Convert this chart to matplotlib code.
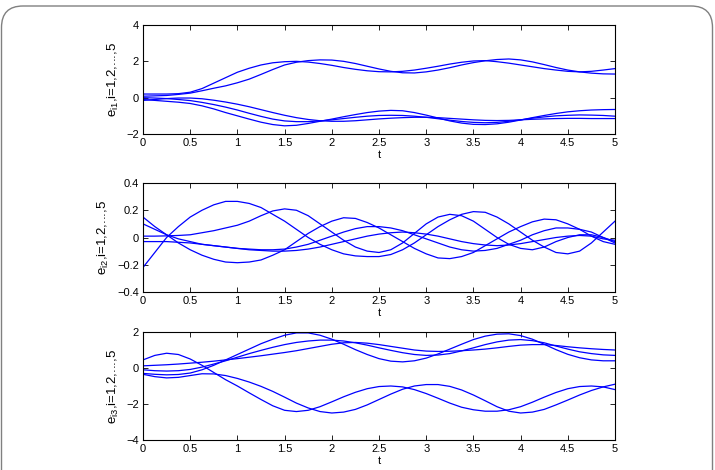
import matplotlib
matplotlib.use("Agg")
import matplotlib.pyplot as plt
from matplotlib.patches import FancyBboxPatch

plt.rcParams['font.family'] = ['Liberation Sans', 'DejaVu Sans']
plt.rcParams['mathtext.fontset'] = 'custom'
plt.rcParams['mathtext.rm'] = 'Liberation Sans'
plt.rcParams['mathtext.it'] = 'Liberation Sans'

t = [0, 0.125, 0.25, 0.375, 0.5, 0.625, 0.75, 0.875, 1.0, 1.125, 1.25, 1.375,
     1.5, 1.625, 1.75, 1.875, 2.0, 2.125, 2.25, 2.375, 2.5, 2.625, 2.75, 2.875,
     3.0, 3.125, 3.25, 3.375, 3.5, 3.625, 3.75, 3.875, 4.0, 4.125, 4.25, 4.375,
     4.5, 4.625, 4.75, 4.875, 5.0]

# panel 1: e_i1
e1_a = [0.2, 0.2, 0.2, 0.22, 0.3, 0.5, 0.8, 1.1, 1.4, 1.62, 1.8, 1.92, 1.98, 2.0, 1.96, 1.88, 1.78, 1.66, 1.56, 1.48, 1.43, 1.42, 1.45, 1.52, 1.62, 1.73, 1.85, 1.95, 2.02, 2.04, 1.98, 1.9, 1.8, 1.7, 1.6, 1.52, 1.45, 1.42, 1.45, 1.52, 1.6]
e1_b = [0.08, 0.1, 0.12, 0.18, 0.25, 0.38, 0.52, 0.65, 0.82, 1.02, 1.28, 1.55, 1.8, 1.95, 2.04, 2.08, 2.07, 2.0, 1.88, 1.73, 1.58, 1.45, 1.37, 1.36, 1.42, 1.52, 1.65, 1.8, 1.93, 2.03, 2.1, 2.13, 2.08, 1.97, 1.82, 1.66, 1.52, 1.42, 1.35, 1.31, 1.3]
e1_c = [-0.1, -0.15, -0.2, -0.25, -0.32, -0.45, -0.62, -0.82, -1.0, -1.18, -1.35, -1.48, -1.55, -1.52, -1.42, -1.3, -1.18, -1.05, -0.93, -0.82, -0.74, -0.7, -0.72, -0.82, -0.96, -1.12, -1.28, -1.4, -1.47, -1.48, -1.44, -1.35, -1.23, -1.1, -0.98, -0.87, -0.78, -0.72, -0.68, -0.66, -0.65]
e1_d = [0.0, -0.02, -0.05, -0.1, -0.16, -0.26, -0.38, -0.52, -0.68, -0.86, -1.03, -1.18, -1.28, -1.32, -1.32, -1.28, -1.22, -1.15, -1.08, -1.02, -0.98, -0.97, -0.98, -1.02, -1.08, -1.16, -1.24, -1.31, -1.36, -1.38, -1.36, -1.3, -1.22, -1.13, -1.06, -1.0, -0.97, -0.95, -0.96, -0.98, -1.02]
e1_e = [-0.15, -0.1, -0.05, -0.02, -0.02, -0.06, -0.14, -0.24, -0.36, -0.5, -0.66, -0.82, -0.97, -1.1, -1.2, -1.27, -1.3, -1.3, -1.27, -1.22, -1.17, -1.13, -1.1, -1.08, -1.08, -1.1, -1.14, -1.18, -1.22, -1.25, -1.26, -1.25, -1.22, -1.19, -1.17, -1.15, -1.14, -1.14, -1.15, -1.15, -1.15]

# panel 2: e_i2
e2_a = [-0.22, -0.11, 0.0, 0.08, 0.15, 0.2, 0.24, 0.265, 0.265, 0.25, 0.22, 0.17, 0.12, 0.06, 0.0, -0.05, -0.09, -0.12, -0.135, -0.14, -0.14, -0.125, -0.09, -0.04, 0.02, 0.08, 0.13, 0.17, 0.19, 0.185, 0.15, 0.1, 0.04, -0.02, -0.07, -0.11, -0.12, -0.1, -0.04, 0.04, 0.12]
e2_b = [0.15, 0.08, 0.02, -0.04, -0.09, -0.13, -0.16, -0.18, -0.185, -0.18, -0.165, -0.13, -0.09, -0.03, 0.03, 0.08, 0.12, 0.145, 0.14, 0.11, 0.07, 0.02, -0.03, -0.08, -0.12, -0.15, -0.155, -0.14, -0.11, -0.06, -0.01, 0.04, 0.08, 0.115, 0.135, 0.13, 0.1, 0.06, 0.01, -0.03, -0.05]
e2_c = [0.01, 0.01, 0.012, 0.015, 0.02, 0.035, 0.05, 0.07, 0.09, 0.12, 0.16, 0.195, 0.21, 0.2, 0.16, 0.1, 0.04, -0.02, -0.07, -0.1, -0.11, -0.09, -0.04, 0.03, 0.1, 0.15, 0.17, 0.16, 0.12, 0.06, 0.0, -0.05, -0.08, -0.09, -0.07, -0.03, 0.0, 0.02, 0.02, 0.0, -0.03]
e2_d = [0.1, 0.06, 0.02, -0.01, -0.03, -0.05, -0.06, -0.07, -0.08, -0.085, -0.09, -0.09, -0.085, -0.07, -0.05, -0.02, 0.01, 0.04, 0.065, 0.08, 0.08, 0.07, 0.05, 0.02, -0.01, -0.04, -0.07, -0.09, -0.1, -0.095, -0.08, -0.05, -0.02, 0.02, 0.05, 0.07, 0.07, 0.06, 0.04, 0.0, -0.04]
e2_e = [-0.03, -0.03, -0.03, -0.035, -0.04, -0.05, -0.06, -0.07, -0.08, -0.09, -0.095, -0.1, -0.1, -0.095, -0.085, -0.07, -0.05, -0.03, -0.01, 0.01, 0.025, 0.035, 0.04, 0.035, 0.025, 0.01, -0.01, -0.03, -0.045, -0.055, -0.06, -0.055, -0.045, -0.03, -0.015, 0.0, 0.01, 0.015, 0.01, -0.01, -0.02]

# panel 3: e_i3
e3_a = [-0.3, -0.35, -0.38, -0.36, -0.28, -0.1, 0.15, 0.45, 0.75, 1.05, 1.35, 1.6, 1.82, 1.95, 1.95, 1.82, 1.6, 1.32, 1.02, 0.75, 0.52, 0.38, 0.34, 0.4, 0.55, 0.78, 1.05, 1.32, 1.58, 1.77, 1.88, 1.9, 1.8, 1.6, 1.32, 1.02, 0.76, 0.57, 0.45, 0.4, 0.4]
e3_b = [-0.1, -0.15, -0.17, -0.15, -0.08, 0.05, 0.22, 0.4, 0.6, 0.8, 0.98, 1.15, 1.3, 1.42, 1.5, 1.55, 1.55, 1.5, 1.4, 1.27, 1.12, 0.98, 0.85, 0.75, 0.7, 0.72, 0.8, 0.95, 1.12, 1.3, 1.45, 1.55, 1.58, 1.52, 1.4, 1.22, 1.05, 0.9, 0.8, 0.73, 0.7]
e3_c = [0.12, 0.15, 0.18, 0.22, 0.27, 0.32, 0.38, 0.45, 0.52, 0.6, 0.68, 0.77, 0.86, 0.96, 1.08, 1.2, 1.32, 1.4, 1.42, 1.38, 1.3, 1.2, 1.1, 1.0, 0.94, 0.92, 0.93, 0.96, 1.0, 1.05, 1.12, 1.2, 1.27, 1.3, 1.3, 1.25, 1.18, 1.12, 1.07, 1.03, 1.0]
e3_d = [0.45, 0.7, 0.82, 0.75, 0.5, 0.15, -0.25, -0.65, -1.0, -1.38, -1.75, -2.1, -2.35, -2.42, -2.35, -2.15, -1.88, -1.6, -1.35, -1.15, -1.03, -1.0, -1.05, -1.2, -1.42, -1.68, -1.95, -2.18, -2.32, -2.4, -2.4, -2.32, -2.15, -1.9, -1.62, -1.36, -1.15, -1.03, -1.0, -1.05, -1.2]
e3_e = [-0.35, -0.48, -0.55, -0.52, -0.42, -0.32, -0.33, -0.42, -0.58, -0.78, -1.02, -1.3, -1.62, -1.95, -2.22, -2.42, -2.5, -2.45, -2.3, -2.05, -1.75, -1.45, -1.18, -1.0, -0.92, -0.92, -1.02, -1.22, -1.5, -1.82, -2.15, -2.4, -2.5, -2.45, -2.3, -2.05, -1.78, -1.5, -1.25, -1.05, -0.9]

panels = [
    ([e1_a, e1_b, e1_c, e1_d, e1_e], (-2, 4), [-2, 0, 2, 4], ['\u22122', '0', '2', '4'], r'e$_{i1}$,i=1,2,...,5'),
    ([e2_a, e2_b, e2_c, e2_d, e2_e], (-0.4, 0.4), [-0.4, -0.2, 0, 0.2, 0.4], ['\u22120.4', '\u22120.2', '0', '0.2', '0.4'], r'e$_{i2}$,i=1,2,...,5'),
    ([e3_a, e3_b, e3_c, e3_d, e3_e], (-4, 2), [-4, -2, 0, 2], ['\u22124', '\u22122', '0', '2'], r'e$_{i3}$,i=1,2,...,5'),
]
xticks = [0, 0.5, 1, 1.5, 2, 2.5, 3, 3.5, 4, 4.5, 5]
xticklabels = ['0', '0.5', '1', '1.5', '2', '2.5', '3', '3.5', '4', '4.5', '5']

W, H = 715, 470
fig = plt.figure(figsize=(W / 100, H / 100), dpi=100)

border = FancyBboxPatch((1.5 / W, -30 / H), 711 / W, 464 / H + 30 / H,
                        boxstyle="round,pad=0,rounding_size=0.03",
                        transform=fig.transFigure, fill=False,
                        edgecolor='#808080', linewidth=1.0, mutation_aspect=W / H)
fig.patches.append(border)

tops = [25, 183, 332]
heights = [109, 109, 108]
left, width = 143, 472
for (series, ylim, yt, ytl, ylab), top, h in zip(panels, tops, heights):
    ax = fig.add_axes([left / W, 1 - (top + h) / H, width / W, h / H])
    for s in series:
        ax.plot(t, s, color='#0000ff', linewidth=0.9)
    ax.set_xlim(0, 5)
    ax.set_ylim(*ylim)
    ax.set_xticks(xticks)
    ax.set_xticklabels(xticklabels)
    ax.set_yticks(yt)
    ax.set_yticklabels(ytl)
    ax.tick_params(direction='in', top=True, right=True, length=3.5, width=0.6,
                   labelsize=8, pad=3)
    for sp in ax.spines.values():
        sp.set_linewidth(0.8)
    ax.set_xlabel('t', fontsize=8, labelpad=1)
    ax.set_ylabel(ylab, fontsize=9.5, labelpad=4)

fig.savefig('out.png', dpi=100)
